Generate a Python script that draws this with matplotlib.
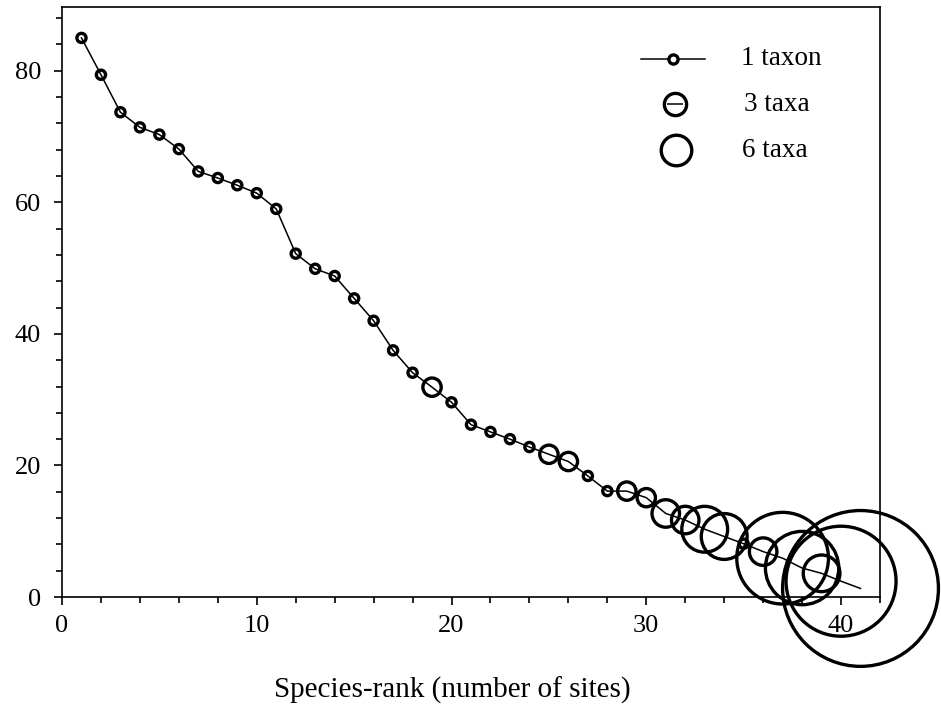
import matplotlib
matplotlib.use("Agg")
import matplotlib.pyplot as plt
import numpy as np

# ---- data ----
rank = list(range(1, 42))
value = [85.0, 79.4, 73.7, 71.4, 70.3, 68.1, 64.7, 63.7, 62.6, 61.4,
         59.0, 52.2, 49.9, 48.8, 45.4, 42.0, 37.5, 34.1, 31.9, 29.6,
         26.2, 25.1, 24.0, 22.8, 21.7, 20.6, 18.4, 16.1, 16.1, 15.1,
         12.7, 11.7, 10.3, 9.2, 8.1, 6.9, 5.9, 4.4, 3.6, 2.4, 1.3]
taxa = [1, 1, 1, 1, 1, 1, 1, 1, 1, 1,
        1, 1, 1, 1, 1, 1, 1, 1, 2, 1,
        1, 1, 1, 1, 2, 2, 1, 1, 2, 2,
        3, 3, 5, 5, 1, 3, 10, 8, 4, 12, 17]
legend_labels = ["1 taxon", "3 taxa", "6 taxa"]
xticks_major = [0, 10, 20, 30, 40]
yticks_major = [0, 20, 40, 60, 80]
xlabel = "Species-rank (number of sites)"

plt.rcParams['font.family'] = ['Liberation Serif', 'DejaVu Serif']

fig = plt.figure(figsize=(9.41, 7.14), dpi=100)
ax = fig.add_axes([62/941, (714-597)/714, 818/941, 590/714])

# connecting line
ax.plot(rank, value, '-', color='black', lw=1.1, zorder=2)

# circles: diameter proportional to number of taxa
base_ms = 6.6  # points
sizes = [(base_ms * t) ** 2 for t in taxa]
ax.scatter(rank, value, s=sizes, facecolors='none', edgecolors='black',
           linewidths=2.4, zorder=3, clip_on=False)

ax.set_xlim(0, 42)
ax.set_ylim(0, 89.7)
ax.set_xticks(xticks_major)
ax.set_xticks(np.arange(0, 43, 2), minor=True)
ax.set_yticks(yticks_major)
ax.set_yticks(np.arange(0, 89, 4), minor=True)
ax.tick_params(which='major', direction='out', length=6, width=1.2,
               labelsize=19, pad=7)
ax.tick_params(which='minor', direction='out', length=4, width=1.2)
ax.tick_params(axis='y', which='major', pad=9)
for sp in ax.spines.values():
    sp.set_linewidth(1.2)

ax.set_xlabel(xlabel, fontsize=21)
ax.xaxis.set_label_coords(0.477, -0.135)

# legend (drawn manually in axes coordinates)
tr = ax.transAxes
ly = [0.912, 0.835, 0.757]
mx = 0.747
ax.plot([0.708, 0.786], [ly[0], ly[0]], color='black', lw=1.1, transform=tr)
ax.plot([mx], [ly[0]], marker='o', ms=6.6, mfc='white', mec='black', mew=2.4,
        transform=tr)
ax.plot([mx + 0.002], [ly[1]], marker='o', ms=16.0, mfc='none', mec='black',
        mew=2.4, transform=tr)
ax.plot([mx + 0.002], [ly[1]], marker='_', ms=12.0, mec='black', mew=1.1,
        transform=tr)
ax.plot([mx + 0.004], [ly[2]], marker='o', ms=22.0, mfc='none', mec='black',
        mew=2.4, transform=tr)
ax.text(0.830, ly[0], legend_labels[0], transform=tr, fontsize=19.5,
        va='center', ha='left')
ax.text(0.834, ly[1], legend_labels[1], transform=tr, fontsize=19.5,
        va='center', ha='left')
ax.text(0.831, ly[2], legend_labels[2], transform=tr, fontsize=19.5,
        va='center', ha='left')

fig.savefig("out.png", dpi=100)
